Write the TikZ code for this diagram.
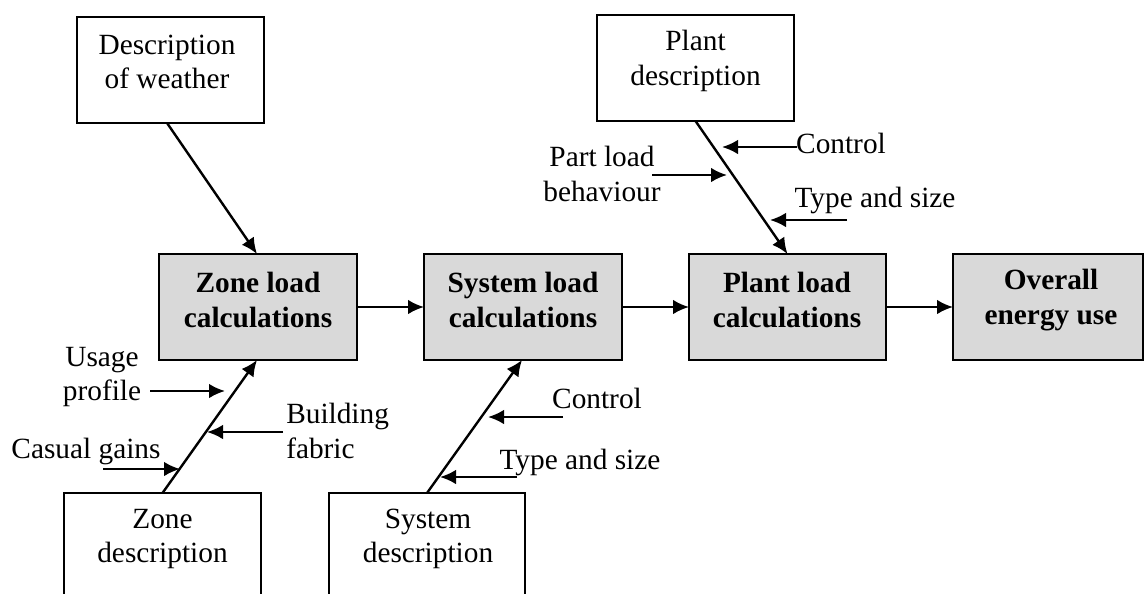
\documentclass[tikz,border=0pt]{standalone}
\usepackage{fontspec}
\setmainfont{Liberation Serif}
\usetikzlibrary{arrows.meta}
\definecolor{boxgray}{HTML}{D9D9D9}
\begin{document}
\begin{tikzpicture}[x=0.75pt,y=-0.75pt,
  box/.style={draw,line width=1.4pt,inner sep=0pt,outer sep=0pt},
  calcbox/.style={box,fill=boxgray},
  txt/.style={font=\fontsize{22}{26}\selectfont,align=center,inner sep=0pt},
  btxt/.style={font=\fontsize{22}{26}\selectfont\bfseries,align=center,inner sep=0pt},
  arr/.style={line width=1.8pt,-{Latex[length=12pt,width=11pt]}},
  ln/.style={line width=1.8pt}]
\useasboundingbox (0,0) rectangle (1145,593);
\clip (0,0) rectangle (1145,593);
% boxes
\node[box,minimum width=140.25pt,minimum height=79.5pt] (weather) at (170.5,70) {};
\node[box,minimum width=147.75pt,minimum height=79.5pt] (pdesc) at (695.5,68) {};
\node[calcbox,minimum width=148.5pt,minimum height=79.5pt] (zcalc) at (258,307) {};
\node[calcbox,minimum width=148.5pt,minimum height=79.5pt] (scalc) at (523,307) {};
\node[calcbox,minimum width=147.75pt,minimum height=79.5pt] (pcalc) at (787.5,307) {};
\node[calcbox,minimum width=142.5pt,minimum height=79.5pt] (overall) at (1048,307) {};
\node[box,minimum width=147.75pt,minimum height=82.5pt] (zdesc) at (162.5,548) {};
\node[box,minimum width=147pt,minimum height=82.5pt] (sdesc) at (427,548) {};
% box texts
\node[txt] (tweather) at (167,62) {Description\\of weather};
\node[txt] (tpdesc) at (695.5,61) {Plant\\description};
\node[btxt] (tzcalc) at (258,300) {Zone load\\calculations};
\node[btxt] (tscalc) at (523,300) {System load\\calculations};
\node[btxt] (tpcalc) at (787,300) {Plant load\\calculations};
\node[btxt] (toverall) at (1051,300) {Overall\\energy use};
\node[txt] (tzdesc) at (162.5,539) {Zone\\description};
\node[txt] (tsdesc) at (428,539) {System\\description};
% main connectors
\draw[arr] ([xshift=-2.6pt]weather.south) -- ([xshift=-0.75pt]zcalc.north);
\draw[arr] (pdesc.south) -- (pcalc.north);
\draw[arr] (zdesc.north) -- ([xshift=-0.75pt]zcalc.south);
\draw[arr] (sdesc.north) -- ([xshift=-0.75pt]scalc.south);
\draw[arr] (zcalc.east) -- (scalc.west);
\draw[arr] (scalc.east) -- (pcalc.west);
\draw[arr] (pcalc.east) -- (overall.west);
% side influences: zone
\coordinate (usageA) at (150,391); \coordinate (usageB) at (225,391);
\coordinate (fabA) at (283,432); \coordinate (fabB) at (207,432);
\coordinate (casA) at (103,469); \coordinate (casB) at (180,469);
\draw[arr] (usageA) -- (usageB);
\draw[arr] (fabA) -- (fabB);
\draw[arr] (casA) -- (casB);
\node[txt] (lusage) at (102,377) {Usage\\profile};
\node[txt,anchor=west,align=left] (lfabric) at (286,431) {Building\\fabric};
\node[txt] (lcasual) at (86,451) {Casual gains};
% side influences: system
\coordinate (sctlA) at (563,417); \coordinate (sctlB) at (488,417);
\coordinate (stsA) at (517,477); \coordinate (stsB) at (440,477);
\draw[arr] (sctlA) -- (sctlB);
\draw[arr] (stsA) -- (stsB);
\node[txt] (lsctl) at (597,398) {Control};
\node[txt] (lsts) at (580,462) {Type and size};
% side influences: plant
\coordinate (pctlA) at (797,147); \coordinate (pctlB) at (722,147);
\coordinate (pplA) at (652,175); \coordinate (pplB) at (727,175);
\coordinate (ptsA) at (847,220); \coordinate (ptsB) at (770,220);
\draw[arr] (pctlA) -- (pctlB);
\draw[arr] (pplA) -- (pplB);
\draw[arr] (ptsA) -- (ptsB);
\node[txt] (lpctl) at (841,143) {Control};
\node[txt] (lppl) at (602,174) {Part load\\behaviour};
\node[txt] (lpts) at (875,200) {Type and size};
\end{tikzpicture}
\end{document}
